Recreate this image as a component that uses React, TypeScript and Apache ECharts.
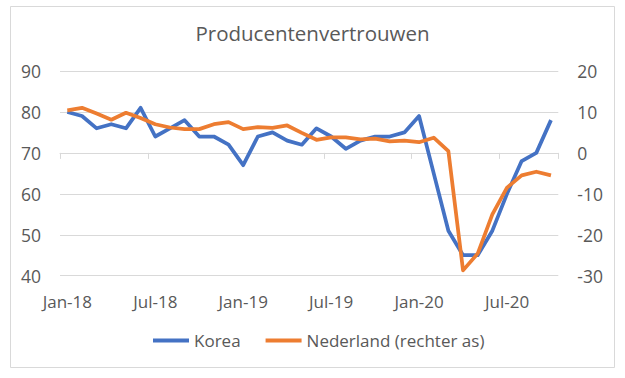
import React, { useEffect, useRef } from "react";
import * as echarts from "echarts";

const months = [
  "Jan-18","Feb-18","Mar-18","Apr-18","May-18","Jun-18","Jul-18","Aug-18","Sep-18","Oct-18","Nov-18","Dec-18",
  "Jan-19","Feb-19","Mar-19","Apr-19","May-19","Jun-19","Jul-19","Aug-19","Sep-19","Oct-19","Nov-19","Dec-19",
  "Jan-20","Feb-20","Mar-20","Apr-20","May-20","Jun-20","Jul-20","Aug-20","Sep-20","Oct-20",
];

const korea = [
  80, 79, 76, 77, 76, 81, 74, 76, 78, 74, 74, 72,
  67, 74, 75, 73, 72, 76, 74, 71, 73, 74, 74, 75,
  79, 65, 51, 45, 45, 51, 60, 68, 70, 78,
];

const nederland = [
  10.4, 11, 9.6, 8.1, 9.8, 8.5, 7, 6.2, 5.8, 5.8, 7.0, 7.5,
  5.8, 6.3, 6.1, 6.7, 4.9, 3.2, 3.8, 3.8, 3.3, 3.5, 2.8, 3.0,
  2.6, 3.7, 0.4, -28.7, -24.6, -15, -8.5, -5.5, -4.6, -5.5,
];

const leftTicks = { min: 40, max: 90, interval: 10 };
const rightTicks = { min: -30, max: 20, interval: 10 };

const FONT = "Open Sans";
const TEXT = "#595959";
const GRID = "#D9D9D9";

export default function App() {
  const ref = useRef<HTMLDivElement>(null);
  useEffect(() => {
    if (!ref.current) return;
    const chart = echarts.init(ref.current, undefined, { renderer: "svg" });
    chart.setOption({
      animation: false,
      backgroundColor: "#ffffff",
      textStyle: { fontFamily: FONT, color: TEXT },
      graphic: [
        {
          type: "rect",
          shape: { x: 10.5, y: 6.5, width: 604, height: 361 },
          style: { fill: "none", stroke: GRID, lineWidth: 1 },
          silent: true,
        },
      ],
      title: {
        text: "Producentenvertrouwen",
        left: "center",
        top: 17,
        textStyle: { fontFamily: FONT, fontSize: 20.5, fontWeight: "normal", color: TEXT },
      },
      legend: {
        left: 148,
        top: 327,
        icon: "rect",
        itemWidth: 36,
        itemHeight: 4,
        itemGap: 25,
        textStyle: { fontFamily: FONT, fontSize: 17, color: TEXT },
        data: ["Korea", "Nederland (rechter as)"],
      },
      grid: { left: 60, right: 66.7, top: 71, bottom: 102.3, containLabel: false },
      xAxis: {
        type: "category",
        data: months,
        boundaryGap: true,
        axisLine: { lineStyle: { color: GRID, width: 1 } },
        axisTick: { show: true, interval: 5, length: 6, lineStyle: { color: GRID } },
        axisLabel: { interval: 5, margin: 17, fontSize: 17, color: TEXT, fontFamily: FONT },
        splitLine: { show: false },
      },
      yAxis: [
        {
          type: "value",
          position: "left",
          ...leftTicks,
          axisLine: { show: false },
          axisTick: { show: false },
          axisLabel: { margin: 19, fontSize: 17.5, color: TEXT, fontFamily: FONT },
          splitLine: { lineStyle: { color: GRID, width: 1 } },
        },
        {
          type: "value",
          position: "right",
          ...rightTicks,
          axisLine: { show: false },
          axisTick: { show: false },
          axisLabel: { margin: 19, fontSize: 17.5, color: TEXT, fontFamily: FONT },
          splitLine: { show: false },
        },
      ],
      series: [
        {
          name: "Korea",
          type: "line",
          data: korea,
          yAxisIndex: 0,
          symbol: "none",
          lineStyle: { color: "#4472C4", width: 3.75, join: "round" },
          itemStyle: { color: "#4472C4" },
        },
        {
          name: "Nederland (rechter as)",
          type: "line",
          data: nederland,
          yAxisIndex: 1,
          symbol: "none",
          lineStyle: { color: "#ED7D31", width: 3.75, join: "round" },
          itemStyle: { color: "#ED7D31" },
        },
      ],
    });
    return () => chart.dispose();
  }, []);
  return (
    <div
      ref={ref}
      style={{ position: "fixed", left: 0, top: 0, width: 625, height: 378 }}
    />
  );
}
